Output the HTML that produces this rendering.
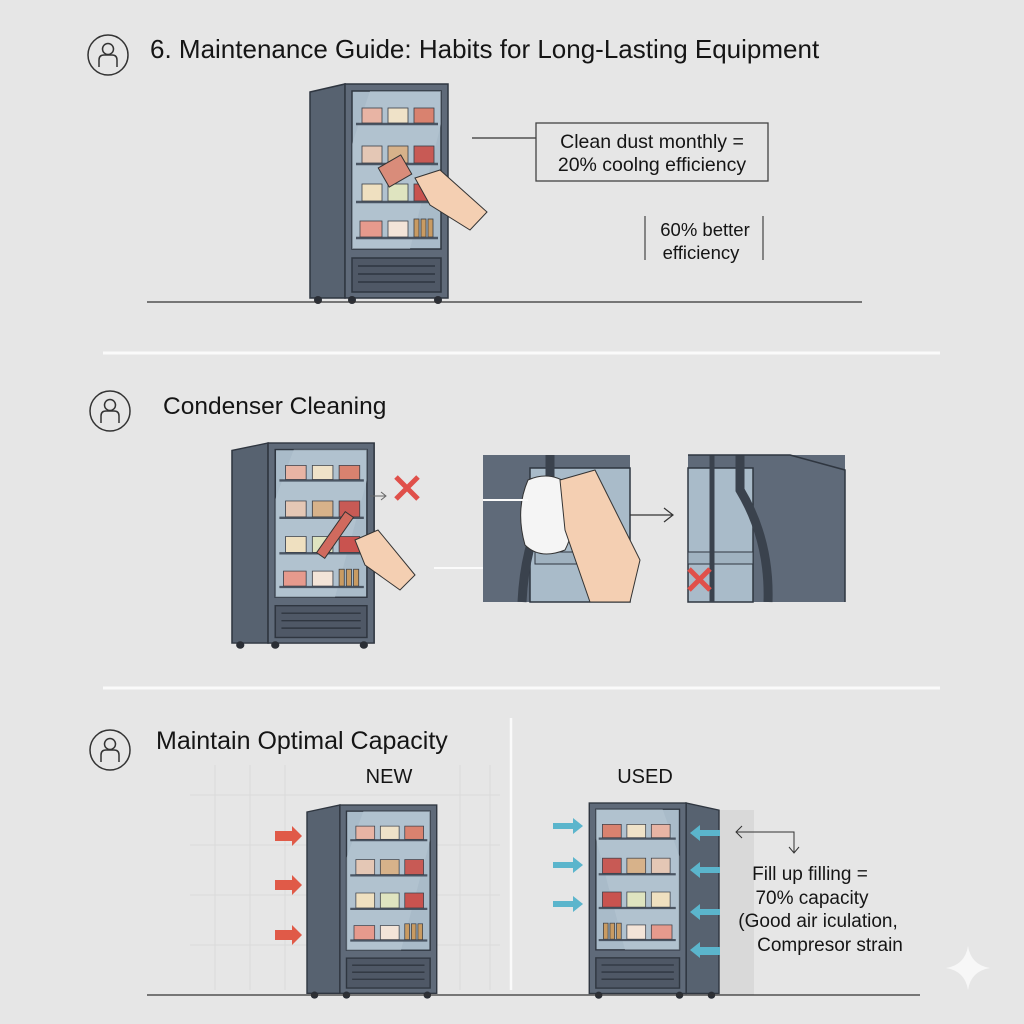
<!DOCTYPE html>
<html><head><meta charset="utf-8"><style>
html,body{margin:0;padding:0;background:#e6e6e6}
svg{display:block}
text{font-family:"Liberation Sans",sans-serif;fill:#151515}
</style></head><body>
<svg width="1024" height="1024" viewBox="0 0 1024 1024" xmlns="http://www.w3.org/2000/svg">
<defs>
<g id="fr">
  <polygon points="0,8 35,0 35,214 0,214" fill="#576270" stroke="#2f3640" stroke-width="1.5"/>
  <rect x="35" y="0" width="103" height="214" fill="#5f6a79" stroke="#2f3640" stroke-width="1.5"/>
  <rect x="42" y="7" width="89" height="158" fill="#a9bbc9" stroke="#2f3640" stroke-width="1.5"/>
  <polygon points="60,7 131,7 131,40 100,165 42,165 42,60" fill="#b9cad6" opacity="0.5"/>
  <g stroke="#4a5563" stroke-width="2.5">
    <line x1="46" y1="40" x2="128" y2="40"/><line x1="46" y1="80" x2="128" y2="80"/>
    <line x1="46" y1="118" x2="128" y2="118"/><line x1="46" y1="154" x2="128" y2="154"/>
  </g>
  <g stroke="#3a3f48" stroke-width="0.8">
    <rect x="52" y="24" width="20" height="15" fill="#e8b4a4"/><rect x="78" y="24" width="20" height="15" fill="#efe2c8"/><rect x="104" y="24" width="20" height="15" fill="#d9826f"/>
    <rect x="52" y="62" width="20" height="17" fill="#e4c7b5"/><rect x="78" y="62" width="20" height="17" fill="#d7b28a"/><rect x="104" y="62" width="20" height="17" fill="#c85a55"/>
    <rect x="52" y="100" width="20" height="17" fill="#efe0c0"/><rect x="78" y="100" width="20" height="17" fill="#dfe4c0"/><rect x="104" y="100" width="20" height="17" fill="#c9534f"/>
    <rect x="50" y="137" width="22" height="16" fill="#e69a8d"/><rect x="78" y="137" width="20" height="16" fill="#f3e4d8"/><rect x="104" y="135" width="5" height="18" fill="#c99b62"/><rect x="111" y="135" width="5" height="18" fill="#c99b62"/><rect x="118" y="135" width="5" height="18" fill="#c99b62"/>
  </g>
  <rect x="42" y="174" width="89" height="34" fill="#4f5866" stroke="#2f3640" stroke-width="1.5"/>
  <g stroke="#2f3640" stroke-width="1.5"><line x1="48" y1="182" x2="125" y2="182"/><line x1="48" y1="190" x2="125" y2="190"/><line x1="48" y1="198" x2="125" y2="198"/></g>
  <circle cx="8" cy="216" r="4" fill="#2a2e35"/><circle cx="42" cy="216" r="4" fill="#2a2e35"/><circle cx="128" cy="216" r="4" fill="#2a2e35"/>
</g>
<g id="ic"><circle cx="0" cy="0" r="20" fill="none" stroke="#333" stroke-width="1.5"/><circle cx="0" cy="-6" r="5.5" fill="none" stroke="#333" stroke-width="1.5"/><path d="M-9,12 V5 Q-9,0 -4,0 H4 Q9,0 9,5 V12" fill="none" stroke="#333" stroke-width="1.5"/></g>
</defs>

<!-- Section 1 -->
<use href="#ic" x="108" y="55"/>
<text x="150" y="58" font-size="26">6. Maintenance Guide: Habits for Long-Lasting Equipment</text>
<use href="#fr" transform="translate(310,84)"/>
<rect x="382" y="160" width="26" height="22" fill="#d98c7a" stroke="#333" transform="rotate(-30 395 171)"/>
<path d="M415,178 L440,170 L487,212 L470,230 L430,205 Z" fill="#f4cfb2" stroke="#333" stroke-width="1"/>
<line x1="147" y1="302" x2="862" y2="302" stroke="#333" stroke-width="1.3"/>
<line x1="472" y1="138" x2="536" y2="138" stroke="#333" stroke-width="1.2"/>
<rect x="536" y="123" width="232" height="58" fill="none" stroke="#444" stroke-width="1.3"/>
<text x="652" y="148" font-size="19.5" text-anchor="middle">Clean dust monthly =</text>
<text x="652" y="171" font-size="19.5" text-anchor="middle">20% coolng efficiency</text>
<line x1="645" y1="216" x2="645" y2="260" stroke="#444" stroke-width="1.2"/>
<line x1="763" y1="216" x2="763" y2="260" stroke="#444" stroke-width="1.2"/>
<text x="705" y="236" font-size="18.5" text-anchor="middle">60% better</text>
<text x="701" y="259" font-size="18.5" text-anchor="middle">efficiency</text>
<line x1="103" y1="353" x2="940" y2="353" stroke="#fafafa" stroke-width="3"/>

<!-- Section 2 -->
<use href="#ic" x="110" y="411"/>
<text x="163" y="414" font-size="24.5">Condenser Cleaning</text>
<use href="#fr" transform="translate(232,443) scale(1.03,0.935)"/>
<rect x="330" y="510" width="10" height="50" fill="#d06a5e" stroke="#333" transform="rotate(35 335 535)"/>
<path d="M355,540 L378,530 L415,575 L400,590 L365,565 Z" fill="#f4cfb2" stroke="#333" stroke-width="1"/>
<line x1="370" y1="496" x2="385" y2="496" stroke="#666"/><path d="M381,492 L386,496 L381,500" fill="none" stroke="#666"/>
<path d="M396,477 L418,499 M418,477 L396,499" stroke="#e0504a" stroke-width="5"/>
<line x1="434" y1="568" x2="516" y2="568" stroke="#fafafa" stroke-width="2"/><path d="M508,562 L516,568 L508,574" fill="none" stroke="#fafafa" stroke-width="1.5"/>
<rect x="483" y="455" width="147" height="147" fill="#5f6a79"/>
<rect x="530" y="468" width="100" height="134" fill="#a9bbc9" stroke="#2f3640" stroke-width="1.5"/>
<rect x="535" y="552" width="95" height="12" fill="#a0b2c0" stroke="#2f3640"/>
<path d="M550,455 V500 Q525,540 522,602" fill="none" stroke="#3a424d" stroke-width="9"/>
<path d="M528,480 Q550,470 570,485 Q580,520 565,550 Q540,560 525,545 Q515,510 528,480 Z" fill="#f5f5f5" stroke="#333"/>
<path d="M560,480 L595,470 L640,560 L630,602 L590,602 L565,530 Z" fill="#f4cfb2" stroke="#333"/>
<line x1="483" y1="500" x2="528" y2="500" stroke="#fafafa" stroke-width="2"/>
<line x1="630" y1="515" x2="672" y2="515" stroke="#333" stroke-width="1.2"/><path d="M664,508 L673,515 L664,522" fill="none" stroke="#333" stroke-width="1.2"/>
<rect x="688" y="455" width="157" height="147" fill="#5f6a79"/>
<rect x="688" y="468" width="65" height="134" fill="#a9bbc9" stroke="#2f3640" stroke-width="1.5"/>
<rect x="688" y="552" width="65" height="12" fill="#a0b2c0" stroke="#2f3640"/>
<line x1="712" y1="455" x2="712" y2="602" stroke="#3a424d" stroke-width="5"/>
<path d="M740,455 V490 Q770,540 768,602" fill="none" stroke="#3a424d" stroke-width="9"/>
<path d="M688,455 H790 L845,470 V602" fill="none" stroke="#2f3640" stroke-width="1.5"/>
<path d="M689,569 L710,590 M710,569 L689,590" stroke="#e0504a" stroke-width="5"/>
<line x1="103" y1="688" x2="940" y2="688" stroke="#fafafa" stroke-width="3"/>

<!-- Section 3 -->
<use href="#ic" x="110" y="750"/>
<text x="156" y="749" font-size="25">Maintain Optimal Capacity</text>
<g stroke="#dadada" stroke-width="1">
  <line x1="190" y1="795" x2="500" y2="795"/><line x1="190" y1="845" x2="500" y2="845"/><line x1="190" y1="895" x2="500" y2="895"/><line x1="190" y1="945" x2="500" y2="945"/>
  <line x1="215" y1="765" x2="215" y2="990"/><line x1="250" y1="765" x2="250" y2="990"/><line x1="285" y1="765" x2="285" y2="990"/><line x1="460" y1="765" x2="460" y2="990"/><line x1="490" y1="765" x2="490" y2="990"/>
</g>
<text x="389" y="783" font-size="20" text-anchor="middle">NEW</text>
<text x="645" y="783" font-size="20" text-anchor="middle">USED</text>
<line x1="511" y1="718" x2="511" y2="990" stroke="#fafafa" stroke-width="2.5"/>
<use href="#fr" transform="translate(307,805) scale(0.94,0.88)"/>
<g fill="#e05a48"><path d="M275,831 H292 V826 L302,836 L292,846 V841 H275Z"/><path d="M275,880 H292 V875 L302,885 L292,895 V890 H275Z"/><path d="M275,930 H292 V925 L302,935 L292,945 V940 H275Z"/></g>
<rect x="719" y="810" width="35" height="185" fill="#d6d6d6" opacity="0.8"/>
<use href="#fr" transform="translate(719,803) scale(-0.94,0.89)"/>
<g fill="#5bb5cc">
  <path d="M553,823 H573 V818 L583,826 L573,834 V829 H553Z"/><path d="M553,862 H573 V857 L583,865 L573,873 V868 H553Z"/><path d="M553,901 H573 V896 L583,904 L573,912 V907 H553Z"/>
  <path d="M720,830 H700 V825 L690,833 L700,841 V836 H720Z"/><path d="M720,867 H700 V862 L690,870 L700,878 V873 H720Z"/><path d="M720,909 H700 V904 L690,912 L700,920 V915 H720Z"/><path d="M720,947 H700 V942 L690,950 L700,958 V955 H720Z"/>
</g>
<path d="M736,832 H794 V852" fill="none" stroke="#333" stroke-width="1"/>
<path d="M742,826 L736,832 L742,838 M789,847 L794,853 L799,847" fill="none" stroke="#333" stroke-width="1"/>
<text x="810" y="880" font-size="19" text-anchor="middle">Fill up filling =</text>
<text x="812" y="904" font-size="19" text-anchor="middle">70% capacity</text>
<text x="818" y="927" font-size="19" text-anchor="middle">(Good air iculation,</text>
<text x="830" y="951" font-size="19" text-anchor="middle">Compresor strain</text>
<line x1="147" y1="995" x2="920" y2="995" stroke="#333" stroke-width="1.3"/>
<path d="M968,946 Q971,965 990,968 Q971,971 968,990 Q965,971 946,968 Q965,965 968,946Z" fill="#f7f7f7"/>
</svg>
</body></html>
